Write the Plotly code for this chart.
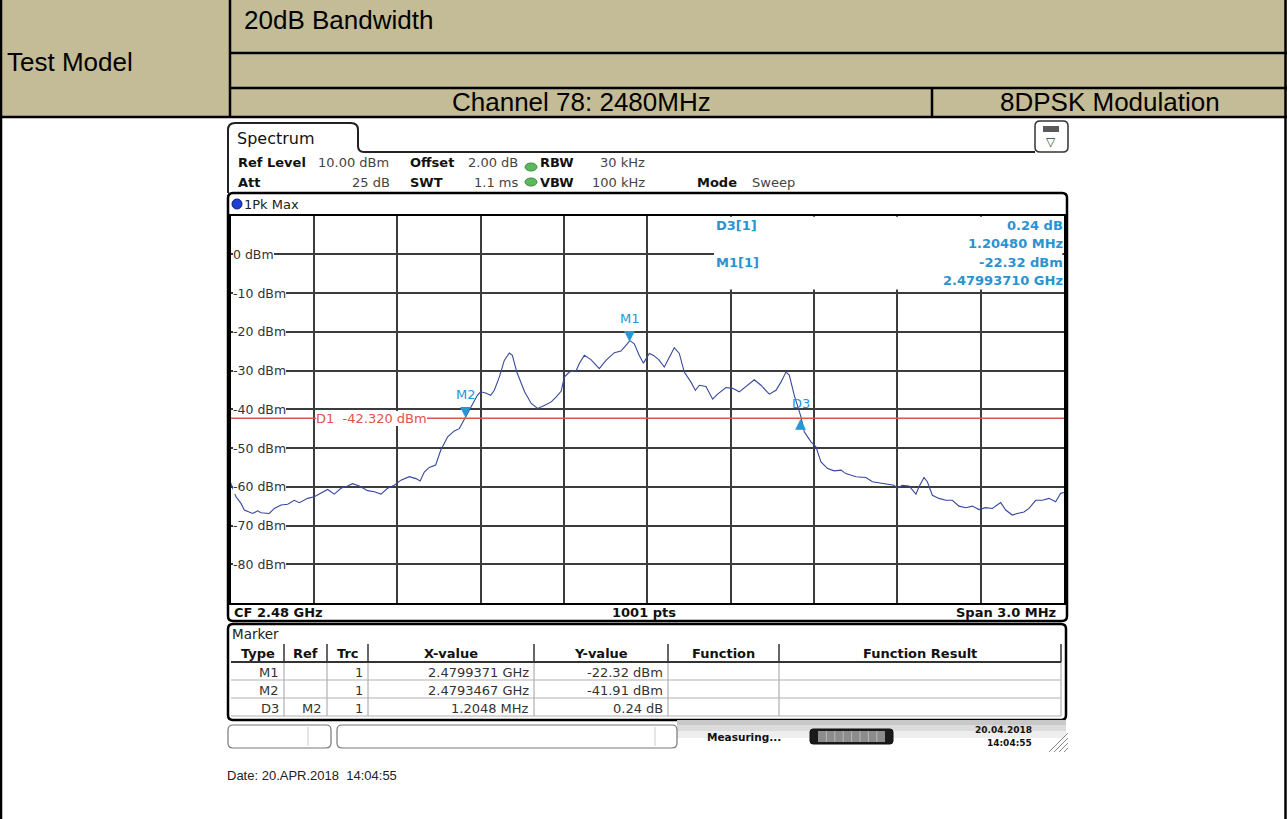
import plotly.graph_objects as go

W, H = 1287, 819

# ---------------- data ----------------
cf_ghz = 2.48
span_mhz = 3.0
ref_level_dbm = 10.0
bottom_level_dbm = -90.0

# trace: offset from CF (MHz) and level (dBm)
freq_offset_mhz = [
    -1.500, -1.481, -1.463, -1.451, -1.421, -1.403, -1.391, -1.361, -1.343, -1.319,
    -1.295, -1.271, -1.253, -1.223, -1.199, -1.175, -1.151, -1.127, -1.103, -1.079,
    -1.061, -1.037, -1.007, -0.983, -0.959, -0.935, -0.911, -0.887, -0.857, -0.833,
    -0.818, -0.803, -0.785, -0.762, -0.744, -0.719, -0.695, -0.677, -0.653, -0.636,
    -0.612, -0.600, -0.582, -0.564, -0.551, -0.533, -0.515, -0.497, -0.486, -0.470,
    -0.442, -0.418, -0.395, -0.371, -0.346, -0.328, -0.310, -0.299, -0.281, -0.256,
    -0.245, -0.227, -0.203, -0.173, -0.149, -0.119, -0.095, -0.077, -0.063, -0.047,
    -0.029, -0.014, 0.007, 0.022, 0.041, 0.061, 0.079, 0.097, 0.115, 0.133,
    0.157, 0.173, 0.187, 0.211, 0.235, 0.253, 0.283, 0.307, 0.331, 0.355,
    0.385, 0.409, 0.439, 0.463, 0.481, 0.499, 0.511, 0.529, 0.552, 0.565,
    0.589, 0.607, 0.625, 0.649, 0.673, 0.697, 0.715, 0.751, 0.787, 0.810,
    0.859, 0.888, 0.900, 0.918, 0.942, 0.967, 0.978, 0.996, 1.008, 1.026,
    1.050, 1.074, 1.098, 1.122, 1.146, 1.170, 1.194, 1.218, 1.242, 1.272,
    1.290, 1.314, 1.332, 1.356, 1.374, 1.398, 1.422, 1.446, 1.470, 1.488,
    1.500,
]
level_dbm = [
    -59.0, -62.6, -64.3, -66.0, -66.9, -66.2, -66.7, -66.9, -65.6, -64.7,
    -64.5, -63.5, -64.1, -63.0, -62.6, -61.7, -60.7, -61.9, -60.4, -59.8,
    -59.2, -59.8, -61.0, -61.3, -61.9, -60.4, -59.6, -58.3, -57.4, -57.9,
    -58.5, -56.2, -55.0, -54.4, -50.6, -47.1, -45.6, -45.0, -41.9, -39.4,
    -36.4, -35.5, -35.8, -36.4, -35.1, -31.7, -27.4, -25.5, -26.1, -30.4,
    -35.5, -38.5, -39.8, -39.0, -38.1, -36.8, -35.3, -31.7, -30.4, -30.0,
    -28.2, -26.1, -27.2, -29.5, -27.4, -25.4, -25.0, -23.5, -22.3, -23.1,
    -26.1, -28.1, -25.6, -26.1, -27.2, -29.1, -26.5, -24.1, -25.6, -30.4,
    -33.0, -35.1, -33.8, -34.1, -37.4, -36.1, -34.4, -34.6, -35.5, -34.2,
    -32.4, -33.8, -36.1, -35.1, -33.0, -30.4, -31.2, -36.4, -41.7, -45.8,
    -48.4, -49.7, -53.6, -55.3, -55.9, -55.7, -56.6, -57.4, -57.6, -58.7,
    -59.2, -59.6, -60.4, -59.6, -59.8, -61.9, -60.0, -57.6, -58.7, -62.2,
    -63.0, -63.5, -63.5, -65.0, -65.4, -65.0, -65.9, -65.4, -65.6, -64.1,
    -66.0, -67.3, -66.9, -66.5, -65.6, -63.5, -63.5, -63.0, -63.9, -61.7,
    -61.5,
]

marker_names = ["M1", "M2", "D3"]
marker_freq_ghz = [2.4799371, 2.4793467, 2.4805515]
marker_level_dbm = [-22.32, -41.91, -41.67]
d1_level_dbm = -42.320

ytick_values = [0, -10, -20, -30, -40, -50, -60, -70, -80]

table_header = ["Type", "Ref", "Trc", "X-value", "Y-value", "Function", "Function Result"]
table_rows = [
    ["M1", "", "1", "2.4799371 GHz", "-22.32 dBm", "", ""],
    ["M2", "", "1", "2.4793467 GHz", "-41.91 dBm", "", ""],
    ["D3", "M2", "1", "1.2048 MHz", "0.24 dB", "", ""],
]

info_left = ["D3[1]", "M1[1]"]
info_right = ["0.24 dB", "1.20480 MHz", "-22.32 dBm", "2.47993710 GHz"]

# ---------------- helpers (pixel -> paper) ----------------
def X(p):
    return p / W


def Y(p):
    return 1 - p / H


shapes, annos = [], []
TAN = "#C4BC96"
INFO = "#2a93d0"
MK = "#2596d6"
RED = "#e0534a"
TRACE = "#38479e"


def rect(x0, y0, x1, y1, fill="rgba(0,0,0,0)", color="rgba(0,0,0,0)", lw=0):
    shapes.append(dict(type="rect", xref="paper", yref="paper", x0=X(x0), x1=X(x1),
                       y0=Y(y1), y1=Y(y0), fillcolor=fill,
                       line=dict(color=color, width=lw), layer="above"))


def seg(x0, y0, x1, y1, color="black", lw=1.0):
    shapes.append(dict(type="line", xref="paper", yref="paper", x0=X(x0), x1=X(x1),
                       y0=Y(y0), y1=Y(y1), line=dict(color=color, width=lw), layer="above"))


def rrect(x0, y0, x1, y1, r, color="black", lw=1.5, fill="rgba(0,0,0,0)"):
    p = (f"M {X(x0+r)},{Y(y0)} L {X(x1-r)},{Y(y0)} Q {X(x1)},{Y(y0)} {X(x1)},{Y(y0+r)} "
         f"L {X(x1)},{Y(y1-r)} Q {X(x1)},{Y(y1)} {X(x1-r)},{Y(y1)} "
         f"L {X(x0+r)},{Y(y1)} Q {X(x0)},{Y(y1)} {X(x0)},{Y(y1-r)} "
         f"L {X(x0)},{Y(y0+r)} Q {X(x0)},{Y(y0)} {X(x0+r)},{Y(y0)} Z")
    shapes.append(dict(type="path", xref="paper", yref="paper", path=p,
                       line=dict(color=color, width=lw), fillcolor=fill, layer="above"))


def oval(cx, cy, rx, ry, fill, color):
    shapes.append(dict(type="circle", xref="paper", yref="paper", x0=X(cx-rx), x1=X(cx+rx),
                       y0=Y(cy+ry), y1=Y(cy-ry), fillcolor=fill,
                       line=dict(color=color, width=1), layer="above"))


def txt(x, y, s, size=13, color="#222", bold=False, xa="left", family="DejaVu Sans",
        ya="middle", bg=None):
    d = dict(x=X(x), y=Y(y), xref="paper", yref="paper",
             text=f"<b>{s}</b>" if bold else s, showarrow=False, xanchor=xa, yanchor=ya,
             font=dict(family=family, size=size, color=color), borderpad=0, borderwidth=0)
    if bg:
        d["bgcolor"] = bg
    annos.append(d)


# ---------------- report table ----------------
rect(0, 0, 1287, 117, fill=TAN)
for (a, b, c, d) in [(230, 0, 230, 117), (230, 53, 1287, 53), (230, 88, 1287, 88),
                     (0, 117, 1287, 117), (932, 88, 932, 117)]:
    seg(a, b, c, d, "black", 2.5)
seg(1, 0, 1, 819, "black", 2.5)
seg(1285.5, 0, 1285.5, 819, "black", 2.5)
HF = "Liberation Sans"
txt(244, 20, "20dB Bandwidth", 26, "black", family=HF)
txt(7, 62, "Test Model", 26, "black", family=HF)
txt(581, 102, "Channel 78: 2480MHz", 26, "black", xa="center", family=HF)
txt(1110, 102, "8DPSK Modulation", 26, "black", xa="center", family=HF)

# ---------------- analyzer chrome ----------------
tab = (f"M {X(228)},{Y(193)} L {X(228)},{Y(130)} Q {X(228)},{Y(123)} {X(235)},{Y(123)} "
       f"L {X(351)},{Y(123)} Q {X(358)},{Y(123)} {X(358)},{Y(130)} L {X(358)},{Y(146)} "
       f"Q {X(358)},{Y(152)} {X(364)},{Y(152)} L {X(1035)},{Y(152)}")
shapes.append(dict(type="path", xref="paper", yref="paper", path=tab,
                   line=dict(color="#222", width=2), layer="above"))
txt(237, 138, "Spectrum", 16, "#111")
rrect(1035, 121, 1068, 152, 5, "#333", 1.5, "white")
rect(1043, 126, 1059, 132, fill="#5a5a5a")
txt(1051, 142, "▽", 12, "#333", xa="center")

# settings
txt(238, 163, "Ref Level", 13, "#111", True)
txt(318, 163, "10.00 dBm", 13, "#444")
txt(410, 163, "Offset", 13, "#111", True)
txt(518, 163, "2.00 dB", 13, "#444", xa="right")
oval(531, 167, 6, 4, "#5cb85c", "#3d8b3d")
txt(540, 163, "RBW", 13, "#111", True)
txt(645, 163, "30 kHz", 13, "#444", xa="right")
txt(238, 182, "Att", 13, "#111", True)
txt(390, 182, "25 dB", 13, "#444", xa="right")
txt(410, 182, "SWT", 13, "#111", True)
txt(518, 182, "1.1 ms", 13, "#444", xa="right")
oval(531, 182, 6, 4, "#5cb85c", "#3d8b3d")
txt(540, 182, "VBW", 13, "#111", True)
txt(645, 182, "100 kHz", 13, "#444", xa="right")
txt(697, 182, "Mode", 13, "#111", True)
txt(752, 182, "Sweep", 13, "#444")

# diagram frame
rrect(228, 193, 1067, 621, 5, "black", 2.5)
oval(237, 204, 5, 5, "#1f3fd0", "#0a1f80")
txt(244, 204, "1Pk Max", 13, "#222")
txt(234, 612, "CF 2.48 GHz", 13, "#111", True)
txt(644, 612, "1001 pts", 13, "#111", True, xa="center")
txt(1056, 612, "Span 3.0 MHz", 13, "#111", True, xa="right")

# marker table
rrect(228, 624, 1066, 720, 5, "black", 2.5)
txt(232, 634, "Marker", 13.5, "#222")
seps = [231, 284, 327, 368, 534, 668, 779, 1061]
for i, h in enumerate(table_header):
    txt((seps[i] + seps[i + 1]) / 2, 653, h, 13, "#111", True, xa="center")
for sx in seps[1:]:
    seg(sx, 644, sx, 662, "#333", 1.5)
    seg(sx, 662, sx, 716, "#a0a0a0", 1)
seg(231, 662, 1061, 662, "#333", 2)
row_y = [672, 690, 708]
for r, ry in zip(table_rows, row_y):
    seg(231, ry + 8, 1061, ry + 8, "#b0b0b0", 1)
    for i, c in enumerate(r):
        if c:
            txt(seps[i + 1] - 5, ry, c, 13, "#333", xa="right")

# status bar
rect(677, 720, 1066, 725, fill="#c8c8c8")
rect(677, 725, 1066, 731, fill="#dcdcdc")
rect(677, 731, 1066, 738, fill="#eeeeee")
rrect(228, 725, 331, 748, 5, "#777", 1.2, "white")
seg(308, 727, 308, 746, "#cccccc", 1)
rrect(337, 725, 677, 748, 5, "#777", 1.2, "white")
seg(655, 727, 655, 746, "#cccccc", 1)
txt(744, 737, "Measuring...", 10.5, "#111", True, xa="center")
rrect(810, 729, 893, 744, 3, "#111", 1, "#1a1a1a")
rect(818, 731, 885, 742, fill="#8c8c8c")
for k in range(1, 8):
    seg(818 + k * 8.4, 731, 818 + k * 8.4, 742, "#b8b8b8", 1)
txt(1032, 730, "20.04.2018", 9, "#111", True, xa="right")
txt(1032, 743, "14:04:55", 9, "#111", True, xa="right")
for k in range(4):
    seg(1049 + k * 5, 752, 1068, 733 + k * 5, "#888", 1)

txt(227, 775, "Date: 20.APR.2018  14:04:55", 13, "#222", family=HF)

# ---------------- spectrum plot ----------------
fig = go.Figure()
fig.add_trace(go.Scatter(x=freq_offset_mhz, y=level_dbm, mode="lines",
                         line=dict(color=TRACE, width=1.1), hoverinfo="skip"))

half = span_mhz / 2


def drect(x0, x1, y0, y1):
    shapes.append(dict(type="rect", xref="x", yref="y", x0=x0, x1=x1, y0=y0, y1=y1,
                       fillcolor="white", line=dict(width=0), layer="above"))


# marker info box (white panel over the grid)
drect(0.240, 1.494, -9.1, 9.7)
drect(0.004, 0.240, 0.35, 9.7)
drect(0.004, 0.240, -9.1, -0.35)

# D1 display line
shapes.append(dict(type="line", xref="x", yref="y", x0=-half, x1=half,
                   y0=d1_level_dbm, y1=d1_level_dbm, line=dict(color=RED, width=1.5),
                   layer="above"))
annos.append(dict(x=-1.193, y=d1_level_dbm, xref="x", yref="y",
                  text=f"D1  {d1_level_dbm:.3f} dBm", showarrow=False, xanchor="left",
                  yanchor="middle", bgcolor="white", borderpad=0, borderwidth=0,
                  font=dict(family="DejaVu Sans", size=13, color=RED)))

# y labels inside the grid
for v in ytick_values:
    annos.append(dict(x=X(233), y=v, xref="paper", yref="y", text=f"{v} dBm",
                      showarrow=False, xanchor="left", yanchor="middle", bgcolor="white",
                      borderpad=0, borderwidth=0,
                      font=dict(family="DejaVu Sans", size=12.5, color="#333")))

# markers
for name, f, lv in zip(marker_names, marker_freq_ghz, marker_level_dbm):
    xo = (f - cf_ghz) * 1000
    if name.startswith("D"):
        annos.append(dict(x=xo, y=lv, xref="x", yref="y", text="▲", showarrow=False,
                          xanchor="center", yanchor="top", yshift=3,
                          font=dict(family="DejaVu Sans", size=14, color=MK)))
        annos.append(dict(x=xo, y=lv, xref="x", yref="y", text=name, showarrow=False,
                          xanchor="center", yanchor="bottom", yshift=3,
                          font=dict(family="DejaVu Sans", size=13, color=MK)))
    else:
        annos.append(dict(x=xo, y=lv, xref="x", yref="y", text="▼", showarrow=False,
                          xanchor="center", yanchor="bottom", yshift=-4,
                          font=dict(family="DejaVu Sans", size=14, color=MK)))
        annos.append(dict(x=xo, y=lv, xref="x", yref="y", text=name, showarrow=False,
                          xanchor="center", yanchor="bottom", yshift=13,
                          font=dict(family="DejaVu Sans", size=13, color=MK)))

# info box text
txt(716, 225, info_left[0], 13, INFO, True)
txt(716, 262, info_left[1], 13, INFO, True)
for s, yy in zip(info_right, [225, 243, 262, 280]):
    txt(1063, yy, s, 13, INFO, True, xa="right")

fig.update_layout(
    width=W, height=H, margin=dict(l=0, r=0, t=0, b=0),
    paper_bgcolor="white", plot_bgcolor="white", showlegend=False,
    font=dict(family="DejaVu Sans"),
    xaxis=dict(domain=[X(230.7), X(1064)], range=[-half, half], dtick=0.3, tick0=0,
               showgrid=True, gridcolor="#3c3c3c", gridwidth=1.5, zeroline=False,
               showticklabels=False, ticks="", showline=True, mirror=True,
               linecolor="black", linewidth=2, fixedrange=True),
    yaxis=dict(domain=[Y(603), Y(215.5)], range=[bottom_level_dbm, ref_level_dbm],
               dtick=10, tick0=0, showgrid=True, gridcolor="#3c3c3c", gridwidth=1.5,
               zeroline=False, showticklabels=False, ticks="", showline=True, mirror=True,
               linecolor="black", linewidth=2, fixedrange=True),
    shapes=shapes, annotations=annos,
)
fig.write_html("out.html", config={"displayModeBar": False},
               post_script="document.body.style.margin='0';document.body.style.overflow='hidden';")
